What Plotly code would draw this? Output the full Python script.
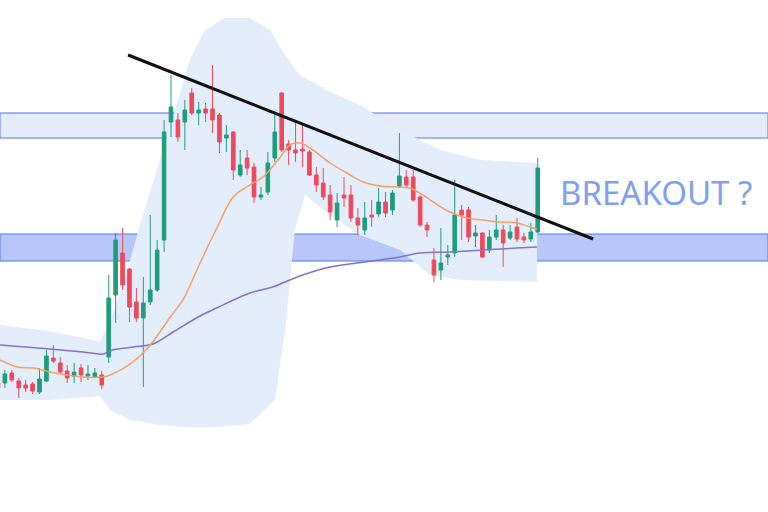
import plotly.graph_objects as go

# ---- candle data (price units, index = candle number) ----
opens = [129,129,139,131,127,128,120,131,154,149,141,136,144,136,135,137,
         155,217,259,243,210,194,210,222,272,390,392,390,419,399,403,403,
         397,374,380,337,354,345,315,320,354,419,368,362,363,360,337,329,
         317,292,317,317,294,282,297,298,310,302,326,335,335,315,287,252,
         242,255,259,302,302,276,279,262,275,282,274,285,275,273,280]
highs = [132,142,142,134,132,130,144,162,167,155,147,149,148,147,144,141,
         237,279,284,244,224,235,297,272,392,437,399,412,424,410,409,447,
         399,387,381,362,362,349,325,360,399,420,372,390,389,362,345,344,
         327,319,335,327,304,310,312,324,320,322,379,342,342,317,290,264,
         284,267,332,307,305,287,280,282,297,287,287,294,279,289,354]
lows = [122,124,130,114,120,118,118,130,149,139,129,129,130,132,134,123,
        149,189,222,190,190,125,207,220,260,375,370,362,397,387,390,379,
        359,360,332,335,337,309,312,317,350,360,347,350,345,336,320,312,
        292,285,305,290,277,277,285,295,295,297,324,324,310,285,275,230,
        232,247,255,272,270,265,254,259,272,245,272,270,269,270,279]
closes = [124,138,132,124,124,121,133,156,151,140,134,140,137,138,139,127,
          214,272,227,205,194,209,222,262,380,405,375,402,399,402,399,392,
          370,377,342,347,344,315,317,349,380,362,362,359,361,337,327,315,
          300,309,314,294,287,294,295,310,299,319,336,327,312,287,282,237,
          249,257,297,297,275,279,255,275,282,269,280,273,272,280,344]

# ---- moving averages ----
fast_ma_x = [0.3,2.8,5.1,7.5,10,12.3,15.2,16.2,19.5,22,24.9,26.7,29.2,31.7,34,36.4,
             38.3,40.8,42.2,43.6,45.1,48,50.4,52.8,55.2,57.7,59.5,61.4,62.9,65.3,
             67.8,70.1,72.5,75,77.3,77.9]
fast_ma_y = [152,145,144,140,137,135,135,137,150,167,195,212,249,285,315,327,
             335,355,367,369,364,349,339,330,326,325,324,317,310,300,
             294,292,290,289,284,283]
slow_ma_x = [0.3,7.5,12.3,15.2,16.6,19.5,22.4,25.3,29.2,31.6,36.4,39.7,43.6,48,
             55.2,58.1,61,65.3,70.1,75,77.9]
slow_ma_y = [167,163,160,158,162,165,168,180,196,204,219,225,236,245,
             252,255,259,260,262,264,265]

# ---- bollinger band envelope ----
band_up_x = [0.3,6.1,11.8,14.7,16.2,18.3,20.5,23.4,25.6,27.7,29.9,32.8,36.4,39.3,
             41.5,43.6,48,52.3,58.1,63.9,69.7,77.9]
band_up_y = [187,182,175,170,192,232,287,352,402,452,482,494,494,482,
             457,437,420,407,382,362,352,349]
band_lo_x = [0.3,7.5,14.7,16.2,19.1,23.4,29.2,36.4,40,41.5,42.9,44.4,48,52.3,
             58.1,62.4,66.8,77.9]
band_lo_y = [112,112,116,102,92,87,84,88,112,182,282,317,297,277,
             262,237,232,230]

# ---- zones, trendline, label ----
zone_upper = (374, 399)
zone_lower = (251, 278)
trend_x = [18.8, 86.0]
trend_y = [457, 273]
label = "BREAKOUT ?"
x_range = [0.29, 111.27]
y_range = [0, 512]

idx = list(range(len(opens)))
GREEN = "#1e9d7c"
RED = "#ee4a5c"
ZONE_RGB = "95,130,245"

fig = go.Figure()

# band as a shape drawn beneath the traces
pts_x = band_up_x + band_lo_x[::-1]
pts_y = band_up_y + band_lo_y[::-1]
path = "M " + " L ".join(f"{a},{b}" for a, b in zip(pts_x, pts_y)) + " Z"
fig.add_shape(type="path", path=path, xref="x", yref="y", layer="below",
              fillcolor="#e3edfb", line=dict(width=0))

# zones
for (lo, hi), alpha in [(zone_upper, 0.16), (zone_lower, 0.45)]:
    fig.add_shape(type="rect", xref="paper", yref="y", x0=0, x1=1, y0=lo, y1=hi,
                  layer="below", fillcolor=f"rgba({ZONE_RGB},{alpha})",
                  line=dict(width=1.5, color=f"rgba({ZONE_RGB},0.75)"))

# candles
fig.add_trace(go.Candlestick(
    x=idx, open=opens, high=highs, low=lows, close=closes,
    increasing=dict(line=dict(color=GREEN, width=1), fillcolor=GREEN),
    decreasing=dict(line=dict(color=RED, width=1), fillcolor=RED),
    whiskerwidth=0, hoverinfo="skip"))

# moving averages
fig.add_trace(go.Scatter(x=slow_ma_x, y=slow_ma_y, mode="lines", hoverinfo="skip",
                         line=dict(color="#8273c4", width=1.5, shape="spline")))
fig.add_trace(go.Scatter(x=fast_ma_x, y=fast_ma_y, mode="lines", hoverinfo="skip",
                         line=dict(color="#f3a165", width=1.5, shape="spline")))

# trendline
fig.add_trace(go.Scatter(x=trend_x, y=trend_y, mode="lines", hoverinfo="skip",
                         line=dict(color="#111111", width=3)))

fig.add_annotation(text=label, xref="paper", yref="paper", x=0.726, y=0.625,
                   xanchor="left", yanchor="middle", showarrow=False,
                   font=dict(family="Noto Sans", size=33, color="#7f9ff0"))

fig.update_layout(
    width=768, height=512, margin=dict(l=0, r=0, t=0, b=0),
    paper_bgcolor="white", plot_bgcolor="white", showlegend=False,
    boxgap=0.25,
    xaxis=dict(range=x_range, visible=False, rangeslider=dict(visible=False)),
    yaxis=dict(range=y_range, visible=False),
)

fig.write_html("out.html", config={"displayModeBar": False},
               post_script="document.body.style.margin='0';")
